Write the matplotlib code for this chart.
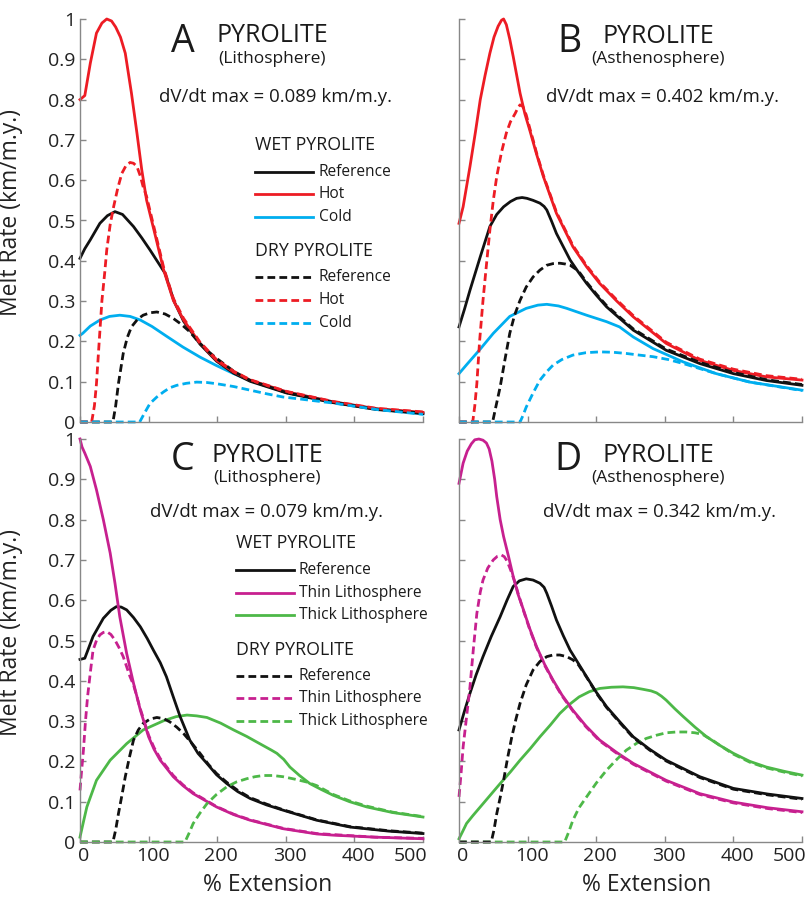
import matplotlib
matplotlib.use("Agg")
import matplotlib.pyplot as plt
import matplotlib.transforms as mtransforms
from matplotlib.lines import Line2D

plt.rcParams['font.family'] = ['Open Sans', 'DejaVu Sans']

# ---------------- DATA ----------------
x_ticks = [0, 100, 200, 300, 400, 500]
y_ticks = [0, 0.1, 0.2, 0.3, 0.4, 0.5, 0.6, 0.7, 0.8, 0.9, 1.0]
y_tick_labels = ["0", "0.1", "0.2", "0.3", "0.4", "0.5", "0.6", "0.7", "0.8", "0.9", "1"]

# Panel A: Pyrolite (Lithosphere), wet/dry, reference/hot/cold
a_ref_wet_x = [0, 7, 15, 29, 40, 51, 62, 78, 90, 102, 113, 124, 137, 151, 175, 199, 224, 248, 301, 369, 432, 500]
a_ref_wet_y = [0.406, 0.43, 0.452, 0.493, 0.512, 0.522, 0.515, 0.485, 0.457, 0.427, 0.398, 0.369, 0.30, 0.25, 0.193, 0.151, 0.121, 0.101, 0.072, 0.048, 0.031, 0.021]
a_hot_wet_x = [0, 7, 15, 24, 32, 39, 46, 52, 59, 66, 75, 83, 90, 97, 109, 122, 136, 151, 175, 199, 224, 248, 301, 369, 432, 500]
a_hot_wet_y = [0.80, 0.81, 0.89, 0.965, 0.99, 1.0, 0.995, 0.98, 0.955, 0.915, 0.816, 0.717, 0.626, 0.551, 0.468, 0.377, 0.302, 0.253, 0.195, 0.153, 0.124, 0.104, 0.075, 0.05, 0.033, 0.024]
a_cold_wet_x = [0, 4, 15, 29, 43, 58, 73, 88, 105, 126, 150, 175, 199, 224, 248, 272, 296, 321, 369, 432, 500]
a_cold_wet_y = [0.215, 0.22, 0.238, 0.253, 0.262, 0.265, 0.262, 0.253, 0.237, 0.213, 0.186, 0.161, 0.14, 0.12, 0.103, 0.089, 0.077, 0.067, 0.05, 0.032, 0.02]
a_ref_dry_x = [0, 48, 52, 56, 63, 69, 75, 84, 92, 102, 112, 124, 136, 148, 160, 172, 185, 199, 224, 248, 301, 369, 432, 500]
a_ref_dry_y = [0, 0, 0.04, 0.095, 0.17, 0.21, 0.236, 0.255, 0.265, 0.271, 0.273, 0.268, 0.257, 0.242, 0.224, 0.2, 0.178, 0.158, 0.126, 0.103, 0.073, 0.049, 0.032, 0.022]
a_hot_dry_x = [0, 17, 21, 24, 28, 32, 36, 39, 44, 49, 55, 61, 67, 73, 78, 83, 88, 92, 97, 109, 122, 136, 151, 175, 199, 224, 248, 301, 369, 432, 500]
a_hot_dry_y = [0, 0, 0.04, 0.095, 0.2, 0.302, 0.37, 0.427, 0.49, 0.534, 0.58, 0.617, 0.636, 0.644, 0.642, 0.634, 0.61, 0.584, 0.56, 0.475, 0.383, 0.307, 0.257, 0.198, 0.155, 0.126, 0.105, 0.076, 0.051, 0.034, 0.025]
a_cold_dry_x = [0, 87, 94, 102, 112, 122, 131, 141, 155, 170, 185, 199, 224, 248, 272, 296, 321, 369, 432, 500]
a_cold_dry_y = [0, 0, 0.022, 0.046, 0.062, 0.075, 0.085, 0.091, 0.096, 0.099, 0.098, 0.095, 0.088, 0.079, 0.07, 0.062, 0.057, 0.047, 0.031, 0.019]

# Panel B: Pyrolite (Asthenosphere)
b_ref_wet_x = [0, 8, 16, 31, 45, 55, 65, 75, 84, 92, 99, 108, 118, 124, 128, 135, 142, 152, 162, 174, 186, 200, 215, 235, 254, 302, 351, 400, 448, 500]
b_ref_wet_y = [0.236, 0.28, 0.327, 0.41, 0.485, 0.515, 0.534, 0.547, 0.555, 0.557, 0.555, 0.55, 0.543, 0.535, 0.526, 0.498, 0.468, 0.435, 0.402, 0.372, 0.344, 0.315, 0.286, 0.256, 0.228, 0.178, 0.145, 0.12, 0.103, 0.091]
b_hot_wet_x = [0, 6, 16, 24, 31, 38, 45, 51, 57, 62, 65, 69, 74, 79, 89, 96, 103, 113, 123, 142, 166, 186, 205, 230, 254, 302, 351, 400, 448, 500]
b_hot_wet_y = [0.493, 0.534, 0.634, 0.72, 0.80, 0.86, 0.915, 0.955, 0.982, 0.997, 1.0, 0.986, 0.95, 0.907, 0.816, 0.765, 0.725, 0.665, 0.609, 0.518, 0.435, 0.385, 0.344, 0.3, 0.261, 0.195, 0.153, 0.128, 0.112, 0.104]
b_cold_wet_x = [0, 11, 31, 50, 74, 98, 115, 128, 145, 157, 186, 215, 234, 254, 283, 327, 375, 424, 500]
b_cold_wet_y = [0.12, 0.142, 0.181, 0.22, 0.262, 0.282, 0.29, 0.292, 0.288, 0.282, 0.265, 0.249, 0.236, 0.211, 0.182, 0.149, 0.12, 0.099, 0.079]
b_ref_dry_x = [0, 49, 54, 60, 67, 74, 81, 89, 98, 108, 118, 128, 137, 147, 155, 162, 174, 186, 200, 215, 235, 254, 302, 351, 400, 448, 500]
b_ref_dry_y = [0, 0, 0.04, 0.087, 0.155, 0.22, 0.265, 0.302, 0.335, 0.36, 0.377, 0.389, 0.393, 0.394, 0.392, 0.389, 0.375, 0.347, 0.318, 0.289, 0.259, 0.231, 0.181, 0.148, 0.123, 0.105, 0.093]
b_hot_dry_x = [0, 20, 23, 26, 30, 35, 40, 45, 50, 55, 62, 69, 75, 82, 86, 89, 93, 98, 103, 108, 113, 123, 142, 166, 186, 205, 230, 254, 302, 351, 400, 448, 500]
b_hot_dry_y = [0, 0, 0.04, 0.095, 0.2, 0.302, 0.39, 0.476, 0.55, 0.609, 0.67, 0.717, 0.745, 0.766, 0.78, 0.787, 0.783, 0.762, 0.73, 0.70, 0.668, 0.612, 0.521, 0.438, 0.388, 0.347, 0.303, 0.264, 0.198, 0.156, 0.131, 0.115, 0.106]
b_cold_dry_x = [0, 89, 93, 98, 108, 118, 128, 137, 150, 166, 185, 205, 225, 244, 263, 283, 305, 327, 350, 375, 424, 500]
b_cold_dry_y = [0, 0, 0.015, 0.037, 0.072, 0.104, 0.125, 0.141, 0.155, 0.166, 0.172, 0.174, 0.173, 0.17, 0.166, 0.162, 0.155, 0.145, 0.133, 0.12, 0.099, 0.078]

# Panel C: Pyrolite (Lithosphere), reference/thin/thick lithosphere
c_ref_wet_x = [0, 7, 19, 34, 45, 53, 60, 68, 78, 88, 98, 107, 117, 126, 131, 136, 146, 160, 172, 185, 199, 214, 230, 248, 272, 296, 345, 394, 450, 500]
c_ref_wet_y = [0.453, 0.456, 0.51, 0.555, 0.575, 0.584, 0.583, 0.576, 0.557, 0.534, 0.505, 0.476, 0.445, 0.41, 0.385, 0.36, 0.311, 0.253, 0.22, 0.195, 0.167, 0.145, 0.125, 0.108, 0.092, 0.079, 0.054, 0.037, 0.027, 0.021]
c_thin_wet_x = [0, 3, 7, 15, 24, 34, 44, 51, 58, 68, 78, 88, 100, 108, 117, 136, 150, 165, 199, 224, 248, 296, 345, 369, 430, 500]
c_thin_wet_y = [1.0, 0.98, 0.965, 0.932, 0.874, 0.80, 0.717, 0.642, 0.559, 0.468, 0.394, 0.327, 0.261, 0.23, 0.203, 0.162, 0.14, 0.12, 0.087, 0.068, 0.054, 0.033, 0.02, 0.017, 0.012, 0.008]
c_thick_wet_x = [0, 5, 10, 24, 44, 68, 92, 122, 140, 156, 170, 185, 205, 224, 243, 262, 279, 287, 297, 306, 320, 335, 352, 369, 393, 418, 456, 500]
c_thick_wet_y = [0.012, 0.05, 0.087, 0.153, 0.203, 0.244, 0.278, 0.301, 0.311, 0.315, 0.313, 0.309, 0.295, 0.278, 0.262, 0.244, 0.228, 0.22, 0.205, 0.186, 0.165, 0.145, 0.13, 0.116, 0.1, 0.087, 0.073, 0.062]
c_ref_dry_x = [0, 48, 52, 56, 61, 66, 72, 78, 85, 92, 102, 112, 122, 131, 141, 151, 163, 175, 187, 199, 214, 230, 248, 272, 296, 345, 394, 450, 500]
c_ref_dry_y = [0, 0, 0.03, 0.07, 0.115, 0.162, 0.21, 0.253, 0.278, 0.294, 0.305, 0.309, 0.306, 0.298, 0.285, 0.269, 0.245, 0.22, 0.193, 0.17, 0.148, 0.128, 0.11, 0.094, 0.08, 0.055, 0.038, 0.028, 0.022]
c_thin_dry_x = [0, 2, 5, 8, 11, 15, 19, 24, 29, 34, 39, 45, 51, 57, 63, 68, 73, 78, 88, 100, 108, 117, 136, 150, 165, 199, 224, 248, 296, 345, 430, 500]
c_thin_dry_y = [0.128, 0.17, 0.228, 0.3, 0.36, 0.42, 0.476, 0.5, 0.514, 0.52, 0.522, 0.515, 0.501, 0.482, 0.46, 0.435, 0.41, 0.39, 0.33, 0.265, 0.234, 0.207, 0.165, 0.142, 0.122, 0.088, 0.069, 0.055, 0.034, 0.021, 0.012, 0.009]
c_thick_dry_x = [0, 153, 159, 165, 175, 185, 199, 214, 228, 243, 255, 267, 281, 296, 313, 330, 345, 369, 393, 418, 456, 500]
c_thick_dry_y = [0, 0, 0.022, 0.046, 0.072, 0.095, 0.118, 0.137, 0.149, 0.157, 0.162, 0.165, 0.165, 0.162, 0.156, 0.149, 0.14, 0.118, 0.102, 0.089, 0.074, 0.063]

# Panel D: Pyrolite (Asthenosphere), reference/thin/thick lithosphere
d_ref_wet_x = [0, 8, 16, 25, 35, 47, 60, 70, 79, 88, 98, 108, 118, 124, 128, 135, 142, 152, 162, 174, 186, 200, 215, 235, 254, 278, 302, 351, 400, 450, 500]
d_ref_wet_y = [0.278, 0.325, 0.369, 0.415, 0.46, 0.51, 0.559, 0.6, 0.634, 0.648, 0.653, 0.65, 0.642, 0.632, 0.617, 0.585, 0.551, 0.512, 0.476, 0.443, 0.41, 0.372, 0.336, 0.297, 0.261, 0.23, 0.203, 0.162, 0.133, 0.119, 0.108]
d_thin_wet_x = [0, 6, 12, 18, 23, 29, 35, 40, 44, 48, 52, 55, 60, 65, 72, 79, 86, 94, 103, 113, 125, 137, 150, 166, 185, 205, 230, 254, 302, 351, 400, 450, 500]
d_thin_wet_y = [0.89, 0.94, 0.97, 0.988, 0.998, 1.0, 0.997, 0.99, 0.975, 0.945, 0.9, 0.857, 0.8, 0.758, 0.71, 0.659, 0.615, 0.576, 0.53, 0.485, 0.44, 0.402, 0.365, 0.327, 0.288, 0.253, 0.222, 0.195, 0.153, 0.12, 0.099, 0.085, 0.075]
d_thick_wet_x = [0, 5, 11, 20, 31, 45, 60, 75, 89, 104, 118, 133, 147, 160, 175, 190, 205, 222, 239, 255, 268, 280, 288, 295, 302, 315, 327, 344, 361, 380, 400, 424, 448, 475, 500]
d_thick_wet_y = [0.008, 0.025, 0.046, 0.065, 0.087, 0.115, 0.145, 0.174, 0.203, 0.232, 0.261, 0.29, 0.319, 0.34, 0.36, 0.373, 0.381, 0.384, 0.385, 0.383, 0.379, 0.375, 0.37, 0.362, 0.352, 0.33, 0.311, 0.285, 0.261, 0.24, 0.22, 0.2, 0.186, 0.175, 0.166]
d_ref_dry_x = [0, 47, 51, 55, 60, 65, 71, 77, 83, 89, 98, 108, 118, 128, 137, 147, 157, 166, 174, 186, 200, 215, 235, 254, 278, 302, 351, 400, 450, 500]
d_ref_dry_y = [0, 0, 0.03, 0.07, 0.11, 0.153, 0.21, 0.261, 0.305, 0.344, 0.39, 0.427, 0.448, 0.46, 0.464, 0.464, 0.46, 0.452, 0.44, 0.409, 0.37, 0.334, 0.295, 0.259, 0.228, 0.201, 0.16, 0.131, 0.117, 0.106]
d_thin_dry_x = [0, 3, 6, 11, 16, 21, 26, 31, 35, 42, 50, 56, 62, 66, 69, 73, 77, 82, 86, 94, 103, 113, 125, 137, 150, 166, 185, 205, 230, 254, 302, 351, 400, 450, 500]
d_thin_dry_y = [0.112, 0.17, 0.236, 0.31, 0.385, 0.48, 0.567, 0.62, 0.65, 0.68, 0.70, 0.709, 0.712, 0.708, 0.70, 0.685, 0.667, 0.642, 0.618, 0.574, 0.528, 0.483, 0.438, 0.4, 0.363, 0.325, 0.286, 0.251, 0.22, 0.193, 0.151, 0.118, 0.097, 0.083, 0.073]
d_thick_dry_x = [0, 154, 160, 166, 175, 186, 200, 215, 230, 244, 259, 273, 288, 302, 317, 331, 344, 355, 370, 380, 400, 424, 448, 475, 500]
d_thick_dry_y = [0, 0, 0.025, 0.054, 0.085, 0.112, 0.146, 0.178, 0.205, 0.228, 0.245, 0.257, 0.265, 0.271, 0.273, 0.273, 0.271, 0.267, 0.252, 0.24, 0.218, 0.198, 0.184, 0.173, 0.164]

# ---------------- STYLE ----------------
BLACK = "#111111"
RED = "#ED1C24"
BLUE = "#00AEEF"
MAGENTA = "#C7208F"
GREEN = "#4DB848"
SPINE = "#888888"
LW = 2.0
DASH = (2.8, 1.5)

W, H = 812, 897
fig = plt.figure(figsize=(W / 100, H / 100), dpi=100)


def fx(px):
    return px / W


def fy(py):
    return 1 - py / H


def make_ax(left, top, show_x, show_y):
    ax = fig.add_axes([fx(left), fy(top + 403), 343 / W, 403 / H])
    ax.set_xlim(0, 500)
    ax.set_ylim(0, 1)
    for s in ("top", "right"):
        ax.spines[s].set_visible(False)
    for s in ("left", "bottom"):
        ax.spines[s].set_color(SPINE)
        ax.spines[s].set_linewidth(1.0)
    ax.set_xticks(x_ticks)
    ax.set_yticks(y_ticks)
    ax.tick_params(direction="in", length=4, width=1.0, color=SPINE, labelsize=14,
                   pad=3.5, labelcolor="#222222")
    if show_y:
        ax.set_yticklabels(y_tick_labels)
        ax.set_ylabel("Melt Rate (km/m.y.)", fontsize=16.5, color="#222222")
        ax.yaxis.set_label_coords(-0.166, 0.52)
    else:
        ax.set_yticklabels([])
    if show_x:
        ax.set_xticklabels([str(v) for v in x_ticks])
        ax.set_xlabel("% Extension", fontsize=16.5, color="#222222")
        ax.xaxis.set_label_coords(0.548, -0.078)
        # small horizontal nudges of the tick labels, as in the original artwork
        labels = ax.get_xticklabels()
        for i, lab in enumerate(labels):
            dx = -12 if i == len(labels) - 1 else 4
            off = mtransforms.ScaledTranslation(dx / 100, 0, fig.dpi_scale_trans)
            lab.set_transform(lab.get_transform() + off)
    else:
        ax.set_xticklabels([])
    return ax


def curve(ax, x, y, color, dashed=False):
    kw = dict(color=color, lw=LW, clip_on=False, solid_joinstyle="round")
    if dashed:
        kw["dashes"] = DASH
        kw["dash_capstyle"] = "butt"
    ax.plot(x, y, **kw)


axA = make_ax(80, 19, False, True)
axB = make_ax(459, 19, False, False)
axC = make_ax(80, 439, True, True)
axD = make_ax(459, 439, True, False)

# Panel A
curve(axA, a_cold_wet_x, a_cold_wet_y, BLUE)
curve(axA, a_ref_wet_x, a_ref_wet_y, BLACK)
curve(axA, a_hot_wet_x, a_hot_wet_y, RED)
curve(axA, a_ref_dry_x, a_ref_dry_y, BLACK, True)
curve(axA, a_hot_dry_x, a_hot_dry_y, RED, True)
curve(axA, a_cold_dry_x, a_cold_dry_y, BLUE, True)

# Panel B
curve(axB, b_cold_wet_x, b_cold_wet_y, BLUE)
curve(axB, b_ref_wet_x, b_ref_wet_y, BLACK)
curve(axB, b_hot_wet_x, b_hot_wet_y, RED)
curve(axB, b_ref_dry_x, b_ref_dry_y, BLACK, True)
curve(axB, b_hot_dry_x, b_hot_dry_y, RED, True)
curve(axB, b_cold_dry_x, b_cold_dry_y, BLUE, True)

# Panel C
curve(axC, c_thick_wet_x, c_thick_wet_y, GREEN)
curve(axC, c_ref_wet_x, c_ref_wet_y, BLACK)
curve(axC, c_thin_wet_x, c_thin_wet_y, MAGENTA)
curve(axC, c_ref_dry_x, c_ref_dry_y, BLACK, True)
curve(axC, c_thin_dry_x, c_thin_dry_y, MAGENTA, True)
curve(axC, c_thick_dry_x, c_thick_dry_y, GREEN, True)

# Panel D
curve(axD, d_thick_wet_x, d_thick_wet_y, GREEN)
curve(axD, d_ref_wet_x, d_ref_wet_y, BLACK)
curve(axD, d_thin_wet_x, d_thin_wet_y, MAGENTA)
curve(axD, d_thick_dry_x, d_thick_dry_y, GREEN, True)
curve(axD, d_thin_dry_x, d_thin_dry_y, MAGENTA, True)
curve(axD, d_ref_dry_x, d_ref_dry_y, BLACK, True)

TXT = "#1a1a1a"


def header(letter, lx, lbase, title_cx, tbase, sub, sbase, dv, dvx, dvbase):
    fig.text(fx(lx), fy(lbase), letter, fontsize=27, ha="left", va="baseline", color=TXT)
    fig.text(fx(title_cx), fy(tbase), "PYROLITE", fontsize=18, ha="center", va="baseline", color=TXT)
    fig.text(fx(title_cx), fy(sbase), sub, fontsize=12.5, ha="center", va="baseline", color=TXT)
    fig.text(fx(dvx), fy(dvbase), dv, fontsize=13.4, ha="left", va="baseline", color=TXT)


header("A", 171, 52, 272, 42, "(Lithosphere)", 63, "dV/dt max = 0.089 km/m.y.", 159, 102)
header("B", 557, 52, 658, 43, "(Asthenosphere)", 63, "dV/dt max = 0.402 km/m.y.", 546, 102)
header("C", 171, 470, 267, 462, "(Lithosphere)", 482, "dV/dt max = 0.079 km/m.y.", 150, 517)
header("D", 554, 470, 658, 462, "(Asthenosphere)", 482, "dV/dt max = 0.342 km/m.y.", 543, 517)


def legend_block(x0, line_len, text_gap, title_y, rows_y, labels, colors, dashed, title):
    fig.text(fx(x0), fy(title_y), title, fontsize=12.8, ha="left", va="center", color=TXT)
    for yy, lab, col in zip(rows_y, labels, colors):
        kw = dict(color=col, lw=LW, transform=fig.transFigure)
        if dashed:
            kw["dashes"] = DASH
        fig.add_artist(Line2D([fx(x0), fx(x0 + line_len)], [fy(yy), fy(yy)], **kw))
        fig.text(fx(x0 + line_len + text_gap), fy(yy), lab, fontsize=11.2, ha="left",
                 va="center", color=TXT)


labsA = ["Reference", "Hot", "Cold"]
colsA = [BLACK, RED, BLUE]
legend_block(255, 58, 6, 145, [172, 194, 217], labsA, colsA, False, "WET PYROLITE")
legend_block(255, 58, 6, 251, [277, 300, 323], labsA, colsA, True, "DRY PYROLITE")

labsC = ["Reference", "Thin Lithosphere", "Thick Lithosphere"]
colsC = [BLACK, MAGENTA, GREEN]
legend_block(236, 58, 5, 543, [570, 593, 615], labsC, colsC, False, "WET PYROLITE")
legend_block(236, 58, 5, 650, [676, 698, 721], labsC, colsC, True, "DRY PYROLITE")

fig.savefig("out.png", dpi=100)
